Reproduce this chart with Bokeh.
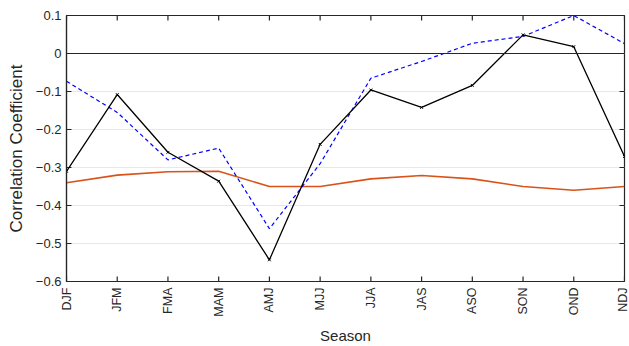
import math
from bokeh.plotting import figure
from bokeh.models import LinearAxis, FixedTicker, Range1d, Span
from bokeh.embed import file_html
from bokeh.resources import INLINE

seasons = ["DJF", "JFM", "FMA", "MAM", "AMJ", "MJJ", "JJA", "JAS", "ASO", "SON", "OND", "NDJ"]
black_vals = [-0.31, -0.108, -0.26, -0.336, -0.543, -0.239, -0.096, -0.142, -0.084, 0.049, 0.018, -0.271]
blue_vals = [-0.073, -0.155, -0.28, -0.249, -0.461, -0.29, -0.065, -0.021, 0.027, 0.045, 0.1, 0.026]
orange_vals = [-0.34, -0.32, -0.311, -0.31, -0.35, -0.35, -0.33, -0.321, -0.33, -0.35, -0.36, -0.35]
y_ticks = [0.1, 0, -0.1, -0.2, -0.3, -0.4, -0.5, -0.6]
y_tick_labels = ["0.1", "0", "\u22120.1", "\u22120.2", "\u22120.3", "\u22120.4", "\u22120.5", "\u22120.6"]

xs = list(range(len(seasons)))
AX = "#262626"
FONT = "Liberation Sans"
W, H = 629, 346
BL, BT, BR, BB = 66, 15, 5, 65
x0, x1 = 0, len(seasons) - 1
y0, y1 = -0.6, 0.1

p = figure(width=W, height=H, output_backend="svg", toolbar_location=None,
           x_range=Range1d(x0, x1), y_range=Range1d(y0, y1),
           min_border_left=BL, min_border_top=BT, min_border_right=BR, min_border_bottom=BB)
p.outline_line_color = AX
p.outline_line_width = 1.2
p.background_fill_color = "white"

# grid
p.xgrid.visible = False
p.ygrid.ticker = FixedTicker(ticks=y_ticks)
p.ygrid.grid_line_color = "#e8e8e8"
p.ygrid.grid_line_width = 1.2

# zero line
p.add_layout(Span(location=0, dimension="width", line_color=AX, line_width=1.2))

# inward tick marks (matlab box style)
tick_px = 5
dx = tick_px * (x1 - x0) / (W - BL - BR)
dy = tick_px * (y1 - y0) / (H - BT - BB)
p.segment(x0=xs, y0=[y0] * len(xs), x1=xs, y1=[y0 + dy] * len(xs), line_color=AX, line_width=1.2)
p.segment(x0=xs, y0=[y1] * len(xs), x1=xs, y1=[y1 - dy] * len(xs), line_color=AX, line_width=1.2)
p.segment(x0=[x0] * len(y_ticks), y0=y_ticks, x1=[x0 + dx] * len(y_ticks), y1=y_ticks, line_color=AX, line_width=1.2)
p.segment(x0=[x1] * len(y_ticks), y0=y_ticks, x1=[x1 - dx] * len(y_ticks), y1=y_ticks, line_color=AX, line_width=1.2)

# lines
p.line(xs, orange_vals, line_color="#D95319", line_width=1.6)
p.line(xs, blue_vals, line_color="#0000FF", line_width=1.2, line_dash="4 3")
p.line(xs, black_vals, line_color="black", line_width=1.3)
p.scatter(xs, black_vals, marker="x", size=4, line_color="black", line_width=1)

# axes
xaxis = p.xaxis[0]
xaxis.ticker = FixedTicker(ticks=xs)
xaxis.major_label_overrides = {i: s for i, s in enumerate(seasons)}
xaxis.major_label_orientation = math.pi / 2
yaxis = p.yaxis[0]
yaxis.ticker = FixedTicker(ticks=y_ticks)
yaxis.major_label_overrides = {t: l for t, l in zip(y_ticks, y_tick_labels)}

for ax in (xaxis, yaxis):
    ax.axis_line_color = AX
    ax.axis_line_width = 1.2
    ax.major_tick_line_color = None
    ax.major_tick_in = 0
    ax.major_tick_out = 0
    ax.minor_tick_line_color = None
    ax.major_label_text_font = FONT
    ax.major_label_text_color = AX
    ax.axis_label_text_font = FONT
    ax.axis_label_text_font_style = "normal"
    ax.axis_label_text_color = AX

xaxis.major_label_text_font_size = "12.5px"
xaxis.major_label_standoff = 6
xaxis.axis_label = "Season"
xaxis.axis_label_text_font_size = "15px"
xaxis.axis_label_standoff = 7
yaxis.major_label_text_font_size = "13px"
yaxis.major_label_standoff = 5
yaxis.axis_label = "Correlation Coefficient"
yaxis.axis_label_text_font_size = "17px"
yaxis.axis_label_standoff = 7

open("out.html", "w").write(file_html(p, INLINE))
